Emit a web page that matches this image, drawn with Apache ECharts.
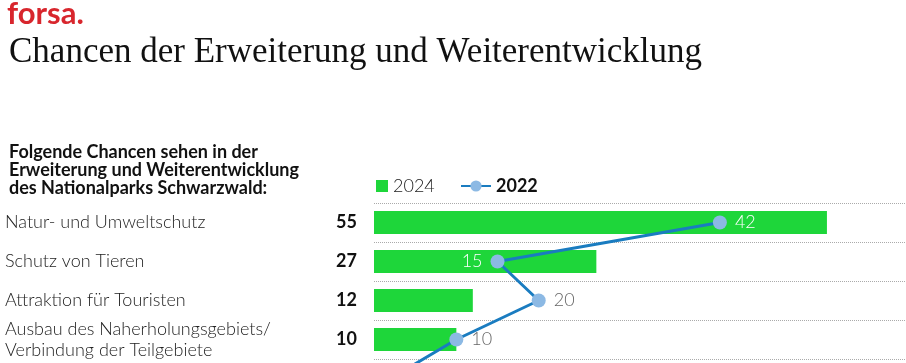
<!DOCTYPE html>
<html>
<head>
<meta charset="utf-8">
<script src="https://cdn.jsdelivr.net/npm/echarts@6/dist/echarts.min.js"></script>
<style>
html,body{margin:0;padding:0;background:#fff;}
#chart{width:906px;height:363px;}
</style>
</head>
<body>
<div id="chart"></div>
<script>
// ---- data ----
// The fifth row lies below the visible picture; only its line segment enters the frame.
const categories = [
  'Natur- und Umweltschutz',
  'Schutz von Tieren',
  'Attraktion für Touristen',
  'Ausbau des Naherholungsgebiets/\nVerbindung der Teilgebiete',
  ''
];
const values2024 = [55, 27, 12, 10, null];
const values2022 = [42, 15, 20, 10, 2];
const seriesNames = ['2024', '2022'];

// ---- styles ----
const GREEN = '#1ed63a';
const BLUE = '#1a7cc0';
const DOT = '#8cb9e4';
const SANS = 'Lato, "Noto Sans", sans-serif';

const whiteLbl = {color: '#ffffff'};
const greyLbl = {color: '#666666'};
const lineLabelStyles = [
  Object.assign({position: 'right'}, whiteLbl),
  Object.assign({position: 'left'}, whiteLbl),
  Object.assign({position: 'right'}, greyLbl),
  Object.assign({position: 'right'}, greyLbl),
  Object.assign({position: 'right'}, greyLbl)
];

const chart = echarts.init(document.getElementById('chart'), null, {renderer: 'canvas'});
const option = {
  animation: false,
  backgroundColor: '#ffffff',
  title: [
    {text: 'forsa.', left: 2, top: -7, textStyle: {fontFamily: SANS, fontWeight: 'bold', fontSize: 31, color: '#d8262d'}},
    {text: 'Chancen der Erweiterung und Weiterentwicklung', left: 4, top: 30, textStyle: {fontFamily: '"Liberation Serif", serif', fontWeight: 'normal', fontSize: 35, color: '#111111'}},
    {text: 'Folgende Chancen sehen in der\nErweiterung und Weiterentwicklung\ndes Nationalparks Schwarzwald:', left: 4, top: 138, textStyle: {fontFamily: SANS, fontWeight: 'bold', fontSize: 18, lineHeight: 18, color: '#111111'}}
  ],
  legend: [
    {data: [seriesNames[0]], left: 371, top: 172, itemWidth: 12, itemHeight: 12, icon: 'rect', selectedMode: false,
     textStyle: {fontFamily: SANS, fontSize: 18, color: '#222', fontWeight: 300}},
    {data: [seriesNames[1]], left: 455, top: 172, itemWidth: 30, itemHeight: 14, selectedMode: false,
     textStyle: {fontFamily: SANS, fontSize: 18, color: '#111', fontWeight: 'bold'}}
  ],
  grid: {left: 374, right: 0, top: 203, height: 195, containLabel: false, outerBoundsMode: 'none'},
  xAxis: {type: 'value', min: 0, max: 64.6, show: false},
  yAxis: [
    {type: 'category', data: categories, inverse: true, position: 'left',
     axisLine: {show: false}, axisTick: {show: false},
     splitLine: {show: true, interval: 0, lineStyle: {color: '#aaaaaa', type: [1, 1], width: 1}},
     axisLabel: {interval: 0, align: 'left', margin: 369, fontFamily: SANS, fontSize: 18, lineHeight: 21, color: '#222', fontWeight: 300}},
    {type: 'category', data: categories, inverse: true, position: 'left', offset: 0,
     axisLine: {show: false}, axisTick: {show: false}, splitLine: {show: false},
     axisLabel: {interval: 0, align: 'right', margin: 17, fontFamily: SANS, fontSize: 18, fontWeight: 'bold', color: '#111',
       formatter: function (v, i) { return values2024[i] == null ? '' : String(values2024[i]); }}}
  ],
  series: [
    {name: seriesNames[0], type: 'bar', data: values2024, yAxisIndex: 0, barWidth: 23,
     itemStyle: {color: GREEN}, silent: true},
    {name: seriesNames[1], type: 'line', yAxisIndex: 0, z: 5,
     data: values2022.map(function (v, i) { return {value: v, label: lineLabelStyles[i]}; }),
     symbol: 'circle', symbolSize: 14,
     lineStyle: {color: BLUE, width: 3},
     itemStyle: {color: DOT},
     label: {show: true, distance: 8, fontFamily: SANS, fontSize: 18, fontWeight: 300},
     silent: true}
  ]
};
chart.setOption(option);
</script>
</body>
</html>
